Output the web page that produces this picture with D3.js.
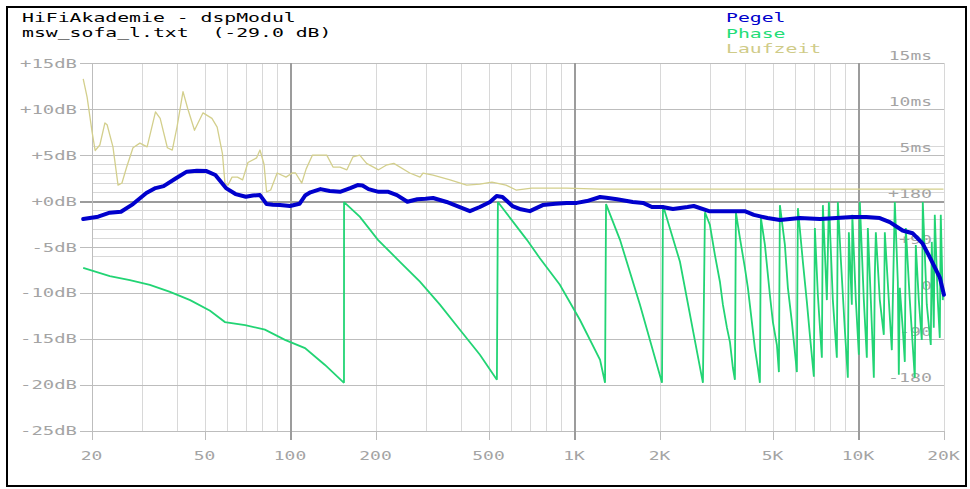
<!DOCTYPE html>
<html><head><meta charset="utf-8">
<script src="https://cdn.jsdelivr.net/npm/d3@7"></script>
<style>
html,body{margin:0;padding:0;background:#fff;}
svg{display:block;}
text{font-family:"DejaVu Sans Mono",monospace;white-space:pre;}
</style></head>
<body>
<svg id="chart" width="970" height="489"></svg>
<script>
// ---------- data ----------
const TITLE_LINES = ["HiFiAkademie - dspModul", "msw_sofa_l.txt  (-29.0 dB)"];
const LEGEND = ["Pegel", "Phase", "Laufzeit"];

const FREQ_TICKS  = [20, 50, 100, 200, 500, 1000, 2000, 5000, 10000, 20000];
const FREQ_LABELS = ["20", "50", "100", "200", "500", "1K", "2K", "5K", "10K", "20K"];
const DB_TICKS  = [15, 10, 5, 0, -5, -10, -15, -20, -25];
const DB_LABELS = ["+15dB", "+10dB", "+5dB", "+0dB", "-5dB", "-10dB", "-15dB", "-20dB", "-25dB"];
const DB_FINE   = [6, 4, 3, 2, 1, -1, -2, -3, -4, -6];
const MS_TICKS  = [15, 10, 5];
const MS_LABELS = ["15ms", "10ms", "5ms"];
const PHASE_TICKS  = [180, 90, 0, -90, -180];
const PHASE_LABELS = ["+180", "+90", "0", "-90", "-180"];

// Pegel (level, dB)
const pegelFreq = [18.7,21.1,23.2,25.4,28.0,31.2,33.6,35.9,39.3,43.3,47,50.8,54.6,59.5,64.3,69.9,74,78.4,82.7,87,92.2,100,108,113,118,128,138,150,163,173,180,189,205,222,238,259,281,300,319,356,396,430,466,506,534,560,607,650,699,776,860,943,1023,1110,1235,1300,1417,1610,1750,1880,2050,2230,2510,2640,2990,3260,3990,4300,4800,5310,6240,7340,8400,9520,10700,11930,12940,14350,15560,16870,17890,19400,20070];
const pegelDb   = [-1.96,-1.7,-1.27,-1.16,-0.33,0.87,1.41,1.63,2.4,3.2,3.3,3.26,2.83,1.41,0.76,0.47,0.6,0.65,-0.33,-0.4,-0.44,-0.54,-0.3,0.6,0.95,1.3,1.1,1.0,1.4,1.74,1.7,1.3,1.0,1.0,0.65,-0.08,0.2,0.25,0.33,-0.1,-0.65,-1.1,-0.65,-0.1,0.54,0.44,-0.54,-0.9,-1.1,-0.44,-0.3,-0.2,-0.2,0,0.44,0.35,0.2,-0.1,-0.2,-0.65,-0.65,-0.87,-0.65,-0.54,-1.1,-1.1,-1.1,-1.5,-1.85,-2.07,-1.85,-1.96,-1.85,-1.74,-1.74,-1.85,-2.3,-3.2,-3.5,-4.6,-6.1,-8.3,-10.2];

// Phase (degrees, wrapped)
const phaseFreq = [18.7,23.2,27.3,32.1,37.8,44.5,52.3,59.0,69.5,81.6,96.0,112.9,132.8,154.9,
  155.0,176.3,204.0,243.8,286.7,337.2,396.5,466.3,535.1,
  539.5,682.5,758.2,891.6,1049.8,1235,1286,
  1296.6,1452,1707,2041,
  2057,2361,2844,
  2891,3010,3135,3264,3344,3455,3540,3627,3686,
  3716,3838,3997,4095,4230,4334,4441,4514,
  4551,4701,4895,5016,5181,5266,
  5308,5528,5664,5850,6043,6092,
  6142,6396,6607,6768,6991,
  7048,7222,7460,7521,7769,7896,8155,8424,8492,8701,8988,9209,9284,9512,9550,9826,10068,10149,10484,10742,10829,11096,11369,11461,11555,11934,12327,12428,12837,13154,13477,13809,13922,14034,14380,14615,14734,15218,15848,15977,16370,16772,16908,17466,18041,18188,18485,18635,19094,19406,19564,19884,20000];
const phaseDeg  = [49,33,25,16,2,-14,-35,-57,-63,-72,-92,-108,-141,-176,
  178,149,104,61,22,-23,-72,-121,-170,
  178,104,68,16,-53,-131,-176,
  174,104,-23,-176,
  172,61,-176,
  158,133,74,22,-23,-68,-96,-147,-170,
  158,108,49,10,-57,-108,-147,-176,
  147,94,-4,-57,-102,-155,
  172,94,10,-57,-135,-155,
  166,61,-18,-82,-164,
  127,-4,-127,172,-14,178,-14,-127,178,65,-72,-166,119,-23,153,-14,-121,178,-14,-127,127,-14,-166,35,119,-14,-82,119,-14,-112,178,22,-160,10,-72,-135,127,-14,-166,94,-14,-92,178,-23,-102,100,-68,153,-14,-88,153,-14,6];

// Laufzeit (group delay, ms)
const laufFreq = [18.7,19.3,20.1,20.6,21.4,22.3,22.7,23.8,24.8,25.6,26.6,28.0,29.6,31.4,33.6,34.9,37.0,38.5,40.0,42.0,43.6,46.1,49.4,53.1,55.4,57.8,59.0,60.5,62.5,65.3,68.1,71.1,76.3,78.4,81.0,82.7,85.5,90.1,96.8,101.8,104.6,110,114,120,134.7,141.7,150,158.6,166.5,176,186,205,218,232,264,287,294,319,366,419,466,514,576,625,710,943,1235,20000];
const laufMs   = [13.3,11.3,7.5,5.5,6.1,8.5,8.3,5.9,1.74,1.96,3.7,5.8,6.3,5.9,9.7,9.0,5.8,5.55,8.05,11.9,10.1,7.7,9.6,9.0,8.05,5.2,1.96,1.74,2.6,2.6,2.3,4.2,4.7,5.55,4.0,1.0,1.2,3.05,2.6,3.05,3.05,1.96,3.5,5.0,5.0,3.7,3.7,3.4,4.8,5.0,4.1,3.4,3.9,4.1,3.05,2.6,3.05,2.83,2.3,1.74,1.85,2.07,1.74,1.2,1.41,1.41,1.3,1.3];

// ---------- scales ----------
const svg = d3.select("#chart");
const x = d3.scaleLog().domain([20, 20000]).range([91.5, 943.5]);
const y = d3.scaleLinear().domain([-25, 15]).range([430.8, 63.2]);
const yPhase = d3.scaleLinear().domain([-180, 180]).range([y(-20), y(0)]);
const yMs = d3.scaleLinear().domain([0, 15]).range([y(0), y(15)]);
const px = v => Math.round(v) + 0.5;

const AXIS_COL = "#a4a4a4";
const g = svg.append("g");

// wide "pixel font" look: stretch each text to a fixed advance per character
function wide(sel, cw) {
  sel.attr("textLength", d => null).each(function () {
    const t = d3.select(this);
    t.attr("textLength", t.text().length * cw).attr("lengthAdjust", "spacingAndGlyphs");
  });
}

// minor vertical grid
const minorF = [];
[10, 100, 1000].forEach(d => { for (let k = 2; k <= 9; k++) { if (k * d >= 30) minorF.push(k * d); } });
minorF.push(20000);
g.selectAll(".vmin").data(minorF).enter().append("line")
  .attr("x1", d => px(x(d))).attr("x2", d => px(x(d)))
  .attr("y1", y(15)).attr("y2", y(-25))
  .attr("stroke", "#d8d8d8").attr("stroke-width", 1).attr("shape-rendering", "crispEdges");

// fine horizontal grid
g.selectAll(".hfine").data(DB_FINE).enter().append("line")
  .attr("x1", x(20)).attr("x2", x(20000))
  .attr("y1", d => px(y(d))).attr("y2", d => px(y(d)))
  .attr("stroke", "#d8d8d8").attr("stroke-width", 1).attr("shape-rendering", "crispEdges");

// major horizontal grid (with left ticks)
g.selectAll(".hmaj").data(DB_TICKS).enter().append("line")
  .attr("x1", 80).attr("x2", x(20000))
  .attr("y1", d => px(y(d))).attr("y2", d => px(y(d)))
  .attr("stroke", d => d === 0 ? "#9c9c9c" : "#bdbdbd")
  .attr("stroke-width", d => d === 0 ? 2 : 1.3).attr("shape-rendering", "crispEdges");

// labelled frequency lines / bottom ticks
const isMajor = d => d === 100 || d === 1000 || d === 10000;
g.selectAll(".vtick").data(FREQ_TICKS).enter().append("line")
  .attr("x1", d => px(x(d))).attr("x2", d => px(x(d)))
  .attr("y1", d => (isMajor(d) || d === 20) ? y(15) : y(-25))
  .attr("y2", 440)
  .attr("stroke", d => isMajor(d) ? "#9c9c9c" : "#bdbdbd")
  .attr("stroke-width", d => isMajor(d) ? 2 : 1.3)
  .attr("shape-rendering", "crispEdges");

// axis labels
g.selectAll(".dbl").data(DB_TICKS).enter().append("text")
  .attr("x", 77).attr("y", d => y(d) + 4.5)
  .attr("text-anchor", "end").attr("font-size", 12.5)
  .attr("fill", AXIS_COL).text((d, i) => DB_LABELS[i]).call(wide, 11.4);

g.selectAll(".fl").data(FREQ_TICKS).enter().append("text")
  .attr("x", d => x(d)).attr("y", 460)
  .attr("text-anchor", "middle").attr("font-size", 12.5)
  .attr("fill", AXIS_COL).text((d, i) => FREQ_LABELS[i]).call(wide, 10.8);

g.selectAll(".msl").data(MS_TICKS).enter().append("text")
  .attr("x", 932).attr("y", d => yMs(d) - 3)
  .attr("text-anchor", "end").attr("font-size", 12.5)
  .attr("fill", AXIS_COL).text((d, i) => MS_LABELS[i]).call(wide, 10.8);

g.selectAll(".phl").data(PHASE_TICKS).enter().append("text")
  .attr("x", 932).attr("y", d => yPhase(d) - 3)
  .attr("text-anchor", "end").attr("font-size", 12.5)
  .attr("fill", AXIS_COL).text((d, i) => PHASE_LABELS[i]).call(wide, 11);

// ---------- series ----------
const lineGen = (yy) => d3.line().x(d => x(d[0])).y(d => yy(d[1]));

const laufData = laufFreq.map((f, i) => [f, laufMs[i]]);
svg.append("path").datum(laufData).attr("d", lineGen(yMs))
  .attr("fill", "none").attr("stroke", "#d3cf8c").attr("stroke-width", 1.3).attr("stroke-linejoin", "round");

const phaseData = phaseFreq.map((f, i) => [f, phaseDeg[i]]);
svg.append("path").datum(phaseData).attr("d", lineGen(yPhase))
  .attr("fill", "none").attr("stroke", "#22d474").attr("stroke-width", 1.8).attr("stroke-linejoin", "miter").attr("stroke-miterlimit", 2);

const pegelData = pegelFreq.map((f, i) => [f, pegelDb[i]]);
svg.append("path").datum(pegelData).attr("d", lineGen(y))
  .attr("fill", "none").attr("stroke", "#0000cc").attr("stroke-width", 4).attr("stroke-linejoin", "round").attr("stroke-linecap", "round");

// ---------- title & legend ----------
svg.selectAll(".title").data(TITLE_LINES).enter().append("text")
  .attr("x", 22).attr("y", (d, i) => 22 + i * 15)
  .attr("font-size", 13).attr("fill", "#000").text(d => d).call(wide, 11.9);

const LEG_COLORS = ["#0000cc", "#22dd77", "#cfcb88"];
svg.selectAll(".leg").data(LEGEND).enter().append("text")
  .attr("x", 726).attr("y", (d, i) => 22 + i * 15.5)
  .attr("font-size", 13).attr("fill", (d, i) => LEG_COLORS[i]).text(d => d).call(wide, 11.9);

// frame
svg.append("rect").attr("x", 7).attr("y", 7).attr("width", 959).attr("height", 479)
  .attr("fill", "none").attr("stroke", "#000").attr("stroke-width", 2);
</script>
</body></html>
